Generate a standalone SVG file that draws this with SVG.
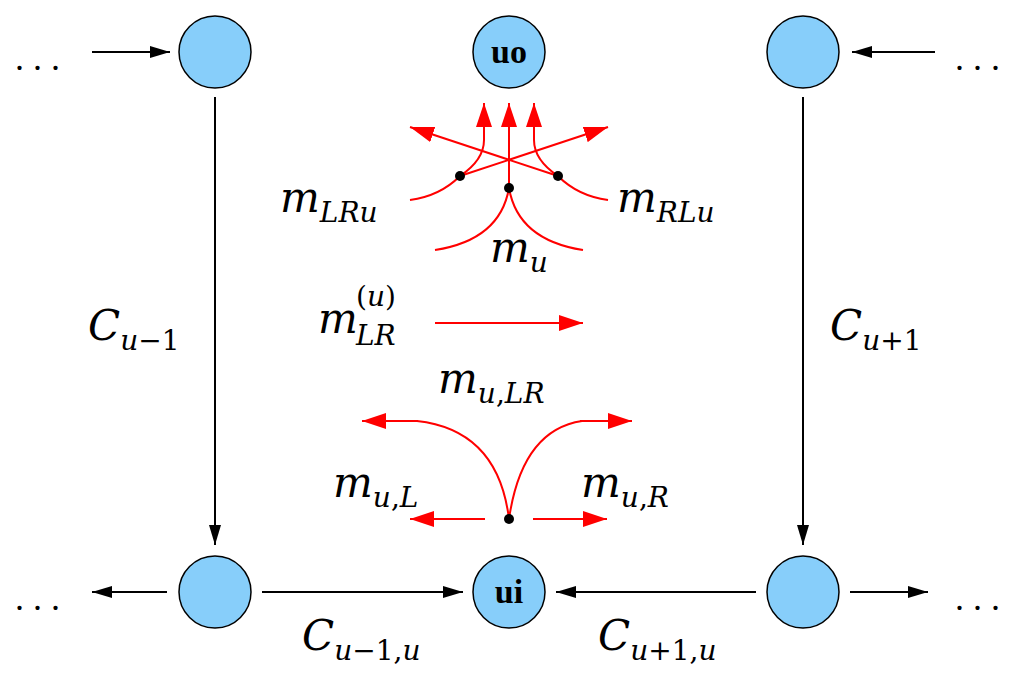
<svg xmlns="http://www.w3.org/2000/svg" width="1024" height="679" viewBox="0 0 1024 679">
<defs>
<marker id="ab" viewBox="0 0 10 10" refX="10" refY="5" markerWidth="20" markerHeight="12" markerUnits="userSpaceOnUse" orient="auto" preserveAspectRatio="none"><path d="M0,0 L10,5 L0,10 z" fill="#000"/></marker>
<marker id="ar" viewBox="0 0 10 10" refX="10" refY="5" markerWidth="24" markerHeight="16" markerUnits="userSpaceOnUse" orient="auto" preserveAspectRatio="none"><path d="M0,0 L10,5 L0,10 z" fill="#f00"/></marker>
<style>
.n{fill:#87cefa;stroke:#000;stroke-width:1.5}
.k{stroke:#000;stroke-width:2;fill:none;marker-end:url(#ab)}
.r{stroke:#f00;stroke-width:2;fill:none}
.ra{stroke:#f00;stroke-width:2;fill:none;marker-end:url(#ar)}
.t{font-family:"DejaVu Serif",serif;font-style:italic;font-size:42px}
.s{font-size:28px}
.up{font-style:normal}
.nl{font-family:"Liberation Serif",serif;font-weight:bold;font-size:34px;text-anchor:middle}
.d{font-family:"Liberation Serif",serif;font-size:36px}
</style>
</defs>
<g id="n1"><circle class="n" cx="215" cy="52" r="36"/></g>
<g id="uo"><circle class="n" cx="509" cy="52" r="36"/><text class="nl" x="509" y="63">uo</text></g>
<g id="n3"><circle class="n" cx="803" cy="52" r="36"/></g>
<g id="n4"><circle class="n" cx="215" cy="592" r="36"/></g>
<g id="ui"><circle class="n" cx="509" cy="592" r="36"/><text class="nl" x="509" y="603">ui</text></g>
<g id="n6"><circle class="n" cx="803" cy="592" r="36"/></g>
<g id="connectors">
<path class="k" d="M92,52 H170"/>
<path class="k" d="M935,52 H852"/>
<path class="k" d="M215,97 V545"/>
<path class="k" d="M803,97 V545"/>
<path class="k" d="M167,592 H92"/>
<path class="k" d="M262,592 H463"/>
<path class="k" d="M756,592 H556"/>
<path class="k" d="M850,592 H928"/>
<path class="ra" d="M484,140 V103"/>
<path class="r" d="M460,176 Q484,160 484,140"/>
<path class="ra" d="M509,188 V103"/>
<path class="ra" d="M534,140 V103"/>
<path class="r" d="M558,176 Q534,160 534,140"/>
<path class="ra" d="M460,176 L608,127"/>
<path class="ra" d="M558,176 L410,127"/>
<path class="r" d="M460,176 Q440,196 410,200"/>
<path class="r" d="M558,176 Q578,196 608,200"/>
<path class="r" d="M509,188 Q500,240 435,250"/>
<path class="r" d="M509,188 Q518,240 583,250"/>
<path class="ra" d="M435,323 H583"/>
<path class="ra" d="M485,519 H410"/>
<path class="ra" d="M533,519 H607"/>
<path class="r" d="M509,519 Q498,430 417,421"/>
<path class="ra" d="M418,421 H362"/>
<path class="r" d="M509,519 Q522,430 582,421"/>
<path class="ra" d="M580,421 H632"/>
<circle cx="460" cy="176" r="5"/><circle cx="509" cy="188" r="5"/><circle cx="558" cy="176" r="5"/><circle cx="509" cy="519" r="5"/>
</g>
<text class="d" x="15" y="70">. . .</text>
<text class="d" x="955" y="70">. . .</text>
<text class="d" x="15" y="610">. . .</text>
<text class="d" x="955" y="610">. . .</text>
<text class="t" x="88" y="340">C<tspan class="s" dy="10">u</tspan><tspan class="s up">−1</tspan></text>
<text class="t" x="830" y="340">C<tspan class="s" dy="10">u</tspan><tspan class="s up">+1</tspan></text>
<text class="t" x="302" y="650">C<tspan class="s" dy="10">u</tspan><tspan class="s up">−1,</tspan><tspan class="s">u</tspan></text>
<text class="t" x="598" y="650">C<tspan class="s" dy="10">u</tspan><tspan class="s up">+1,</tspan><tspan class="s">u</tspan></text>
<text class="t" x="280" y="212">m<tspan class="s" dy="10">LRu</tspan></text>
<text class="t" x="617" y="212">m<tspan class="s" dy="10">RLu</tspan></text>
<text class="t" x="490" y="262">m<tspan class="s" dy="10">u</tspan></text>
<text class="t" x="318" y="333">m</text>
<text class="t s" x="356" y="306"><tspan class="up">(</tspan>u<tspan class="up">)</tspan></text>
<text class="t s" x="356" y="345">LR</text>
<text class="t" x="438" y="393">m<tspan class="s" dy="10">u</tspan><tspan class="s up">,</tspan><tspan class="s">LR</tspan></text>
<text class="t" x="333" y="497">m<tspan class="s" dy="10">u</tspan><tspan class="s up">,</tspan><tspan class="s">L</tspan></text>
<text class="t" x="581" y="497">m<tspan class="s" dy="10">u</tspan><tspan class="s up">,</tspan><tspan class="s">R</tspan></text>
</svg>
